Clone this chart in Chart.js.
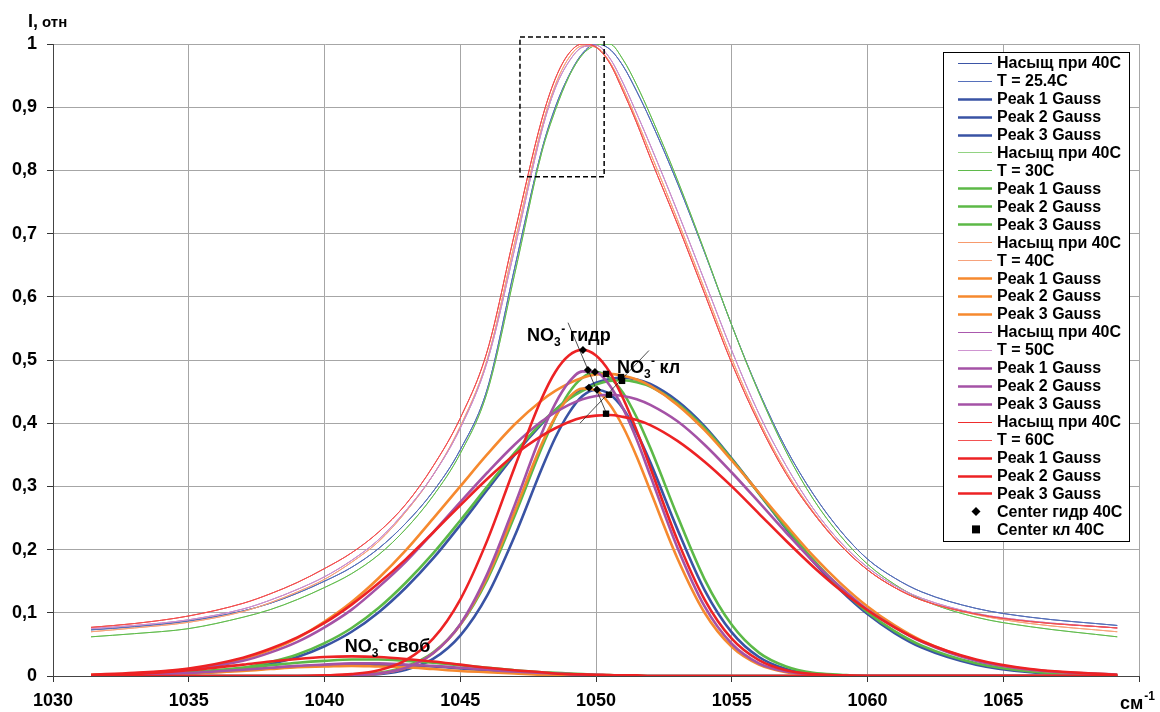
<!DOCTYPE html>
<html>
<head>
<meta charset="utf-8">
<script src="https://cdn.jsdelivr.net/npm/chart.js@4.4.1/dist/chart.umd.min.js"></script>
<style>
  html, body { margin: 0; padding: 0; background: #fff; }
  canvas { display: block; }
</style>
</head>
<body>
<canvas id="chart-spectra" width="1160" height="712"></canvas>
<script>
const FONT = 'Arial, "Liberation Sans", sans-serif';

// wavenumber grid, cm-1
const WAVENUMBER = [1031.4, 1033, 1035, 1037, 1038, 1039, 1040, 1041, 1042, 1043, 1044, 1045, 1046, 1047, 1048, 1048.5, 1049, 1049.5, 1050, 1050.5, 1051, 1051.5, 1052, 1053, 1054, 1055, 1056, 1057, 1058, 1059, 1060, 1061, 1062, 1064, 1066, 1069.2];

// measured bands (thin lines)
const BAND_25 = [.073, .078, .087, .103, .115, .131, .150, .172, .202, .242, .292, .358, .455, .645, .832, .900, .950, .985, 1.0, .992, .965, .925, .880, .780, .670, .555, .450, .360, .288, .230, .185, .155, .133, .107, .093, .080];
const BAND_30 = [.062, .067, .075, .093, .105, .121, .140, .162, .192, .233, .285, .352, .450, .635, .828, .895, .948, .983, .998, 1.0, .975, .935, .888, .785, .672, .555, .448, .355, .280, .222, .177, .145, .121, .093, .078, .062];
const BAND_40 = [.070, .076, .085, .102, .116, .133, .153, .180, .213, .260, .318, .395, .502, .685, .868, .935, .978, .997, .995, .972, .930, .880, .828, .722, .612, .502, .405, .324, .260, .208, .168, .140, .120, .097, .083, .070];
const BAND_50 = [.075, .080, .089, .106, .120, .137, .157, .183, .216, .262, .318, .392, .498, .675, .862, .930, .972, .995, .998, .978, .938, .890, .840, .735, .625, .515, .415, .333, .265, .212, .172, .143, .123, .099, .087, .076];
const BAND_60 = [.077, .083, .095, .115, .130, .148, .170, .195, .228, .272, .332, .408, .515, .700, .880, .945, .985, 1.0, .995, .970, .925, .875, .820, .715, .605, .495, .400, .320, .258, .207, .168, .140, .120, .098, .086, .076];

// Peak 1 Gauss (hydrated)
const PEAK1_25 = [0, 0, 0, 0, 0, 0, 0, .001, .003, .010, .027, .064, .128, .221, .328, .377, .416, .443, .453, .446, .423, .385, .338, .232, .136, .069, .030, .011, .003, .001, 0, 0, 0, 0, 0, 0];
const PEAK1_30 = [0, 0, 0, 0, 0, 0, 0, .002, .005, .015, .037, .081, .153, .253, .361, .409, .448, .472, .481, .472, .448, .409, .361, .253, .153, .081, .037, .015, .005, .002, 0, 0, 0, 0, 0, 0];
const PEAK1_40 = [0, 0, 0, 0, 0, 0, 0, .001, .004, .013, .036, .081, .157, .260, .367, .410, .441, .455, .452, .430, .394, .347, .293, .186, .100, .046, .018, .006, .002, 0, 0, 0, 0, 0, 0, 0];
const PEAK1_50 = [0, 0, 0, 0, 0, 0, 0, .001, .004, .013, .036, .082, .162, .270, .384, .431, .465, .482, .481, .460, .423, .374, .317, .203, .110, .051, .020, .007, .002, 0, 0, 0, 0, 0, 0, 0];
const PEAK1_60 = [0, 0, 0, 0, 0, 0, .001, .003, .009, .025, .059, .121, .215, .330, .439, .481, .507, .516, .507, .481, .439, .388, .330, .215, .121, .059, .025, .009, .003, .001, 0, 0, 0, 0, 0, 0];

// Peak 2 Gauss (contact pairs)
const PEAK2_25 = [0, .001, .004, .011, .019, .030, .047, .070, .101, .140, .186, .239, .295, .350, .399, .421, .439, .453, .464, .470, .472, .469, .462, .435, .395, .344, .289, .233, .181, .136, .098, .068, .045, .018, .006, .001];
const PEAK2_30 = [0, .001, .004, .013, .022, .034, .052, .076, .108, .148, .194, .246, .300, .353, .401, .421, .438, .451, .461, .467, .468, .465, .458, .431, .392, .343, .289, .235, .184, .139, .101, .071, .048, .020, .007, .001];
const PEAK2_40 = [.002, .004, .011, .027, .041, .060, .086, .117, .155, .199, .249, .300, .351, .398, .436, .451, .463, .472, .477, .478, .475, .469, .459, .429, .389, .341, .290, .239, .190, .147, .110, .080, .056, .025, .010, .002];
const PEAK2_50 = [.001, .003, .010, .024, .037, .054, .077, .105, .141, .181, .227, .275, .322, .366, .403, .417, .429, .438, .443, .445, .443, .438, .429, .403, .366, .322, .275, .227, .181, .141, .105, .077, .054, .024, .010, .002];
const PEAK2_60 = [.002, .005, .012, .029, .043, .061, .084, .113, .147, .185, .227, .270, .312, .350, .380, .392, .402, .409, .412, .413, .410, .405, .397, .372, .339, .300, .257, .214, .173, .136, .104, .077, .055, .026, .011, .002];

// Peak 3 Gauss (free ion)
const PEAK3_25 = [.001, .001, .004, .009, .012, .015, .017, .018, .018, .017, .015, .012, .009, .006, .004, .003, .003, .002, .001, .001, .001, 0, 0, 0, 0, 0, 0, 0, 0, 0, 0, 0, 0, 0, 0, 0];
const PEAK3_30 = [.001, .002, .006, .013, .017, .021, .024, .026, .026, .024, .021, .017, .013, .009, .006, .005, .004, .003, .002, .0015, .001, .001, 0, 0, 0, 0, 0, 0, 0, 0, 0, 0, 0, 0, 0, 0];
const PEAK3_40 = [0, .001, .004, .008, .011, .014, .015, .016, .015, .014, .011, .008, .006, .004, .002, .0015, .001, 0, 0, 0, 0, 0, 0, 0, 0, 0, 0, 0, 0, 0, 0, 0, 0, 0, 0, 0];
const PEAK3_50 = [.001, .002, .005, .010, .013, .016, .018, .020, .020, .018, .016, .013, .010, .007, .005, .004, .003, .002, .002, .001, .001, 0, 0, 0, 0, 0, 0, 0, 0, 0, 0, 0, 0, 0, 0, 0];
const PEAK3_60 = [.001, .003, .009, .018, .023, .027, .030, .031, .030, .027, .023, .018, .013, .009, .006, .004, .003, .0025, .002, .0015, .001, .001, 0, 0, 0, 0, 0, 0, 0, 0, 0, 0, 0, 0, 0, 0];

// band centres
const CENTER_HYDR_X = [1049.52, 1049.70, 1049.96, 1049.74, 1050.04];
const CENTER_HYDR_Y = [.516, .484, .481, .456, .453];
const CENTER_CL_X = [1050.37, 1050.92, 1050.96, 1050.48, 1050.37];
const CENTER_CL_Y = [.478, .473, .467, .445, .415];
const TREND_HYDR_X = [1048.97, 1050.44];
const TREND_HYDR_Y = [.559, .410];
const TREND_CL_X = [1049.41, 1051.95];
const TREND_CL_Y = [.400, .515];

const X_TICKS = [1030, 1035, 1040, 1045, 1050, 1055, 1060, 1065, 1070];
const Y_TICKS = [0, .1, .2, .3, .4, .5, .6, .7, .8, .9, 1];

const ANNOTATIONS = [
  { text: 'гидр', x: 1047.46, y: .530 },
  { text: 'кл', x: 1050.77, y: .479 },
  { text: 'своб', x: 1040.75, y: .038 }
];
const ZOOM_BOX = { x1: 1047.2, x2: 1050.3, y1: .79, y2: 1.011 };

const GROUPS = [
  { label: 'T = 25.4C', band: BAND_25, p1: PEAK1_25, p2: PEAK2_25, p3: PEAK3_25, sat: '#3b55a6', thin: '#5670bb', thick: '#3953a4' },
  { label: 'T = 30C', band: BAND_30, p1: PEAK1_30, p2: PEAK2_30, p3: PEAK3_30, sat: '#92d382', thin: '#5fba4b', thick: '#5cb947' },
  { label: 'T = 40C', band: BAND_40, p1: PEAK1_40, p2: PEAK2_40, p3: PEAK3_40, sat: '#f79a6c', thin: '#f6a27c', thick: '#f6892e' },
  { label: 'T = 50C', band: BAND_50, p1: PEAK1_50, p2: PEAK2_50, p3: PEAK3_50, sat: '#aa58ad', thin: '#cf95d1', thick: '#a452a6' },
  { label: 'T = 60C', band: BAND_60, p1: PEAK1_60, p2: PEAK2_60, p3: PEAK3_60, sat: '#ee2d2d', thin: '#f25252', thick: '#ed2224' }
];

function toPoints(xs, ys) {
  return xs.map((x, i) => ({ x, y: ys[i] }));
}

function lineSet(label, ys, color, width) {
  return {
    label,
    data: toPoints(WAVENUMBER, ys),
    borderColor: color,
    backgroundColor: color,
    borderWidth: width,
    pointRadius: 0,
    cubicInterpolationMode: 'monotone',
    fill: false
  };
}

const datasets = [];
GROUPS.forEach((g) => {
  datasets.push(lineSet('Насыщ при 40С', g.band, g.sat, 1));
  datasets.push(lineSet(g.label, g.band, g.thin, 1));
  datasets.push(lineSet('Peak 1 Gauss', g.p1, g.thick, 2.6));
  datasets.push(lineSet('Peak 2 Gauss', g.p2, g.thick, 2.6));
  datasets.push(lineSet('Peak 3 Gauss', g.p3, g.thick, 2.6));
});
datasets.push({
  label: 'trend', noLegend: true, data: toPoints(TREND_HYDR_X, TREND_HYDR_Y),
  borderColor: '#222', borderWidth: .8, pointRadius: 0
});
datasets.push({
  label: 'trend', noLegend: true, data: toPoints(TREND_CL_X, TREND_CL_Y),
  borderColor: '#222', borderWidth: .8, pointRadius: 0
});
datasets.push({
  label: 'Center гидр 40C', marker: 'rectRot', data: toPoints(CENTER_HYDR_X, CENTER_HYDR_Y),
  showLine: false, pointStyle: 'rectRot', pointRadius: 4, pointBorderWidth: 0,
  pointBackgroundColor: '#000', borderColor: '#000'
});
datasets.push({
  label: 'Center кл 40C', marker: 'rect', data: toPoints(CENTER_CL_X, CENTER_CL_Y),
  showLine: false, pointStyle: 'rect', pointRadius: 4.5, pointBorderWidth: 0,
  pointBackgroundColor: '#000', borderColor: '#000'
});
// later series are painted on top, like the original
datasets.forEach((d, i) => { d.order = datasets.length - i; });

function drawNO3(ctx, x, y, suffix) {
  ctx.font = `bold 18px ${FONT}`;
  ctx.fillText('NO', x, y);
  let cx = x + ctx.measureText('NO').width;
  ctx.font = `bold 12px ${FONT}`;
  ctx.fillText('3', cx, y + 5);
  cx += ctx.measureText('3').width;
  ctx.fillText('-', cx + .5, y - 8);
  cx += ctx.measureText('-').width + 5;
  ctx.font = `bold 18px ${FONT}`;
  ctx.fillText(suffix, cx, y);
}

const decor = {
  id: 'decor',
  afterDatasetsDraw(chart) {
    const { ctx, scales: { x, y } } = chart;
    ctx.save();

    // dashed zoom frame
    ctx.setLineDash([5, 3]);
    ctx.strokeStyle = '#000';
    ctx.lineWidth = 1.5;
    const bx1 = x.getPixelForValue(ZOOM_BOX.x1), bx2 = x.getPixelForValue(ZOOM_BOX.x2);
    const by1 = y.getPixelForValue(ZOOM_BOX.y2), by2 = y.getPixelForValue(ZOOM_BOX.y1);
    ctx.strokeRect(bx1, by1, bx2 - bx1, by2 - by1);
    ctx.setLineDash([]);

    // band labels
    ctx.fillStyle = '#000';
    ctx.textBaseline = 'alphabetic';
    ctx.textAlign = 'left';
    ANNOTATIONS.forEach(a => drawNO3(ctx, x.getPixelForValue(a.x), y.getPixelForValue(a.y), a.text));

    // axis titles
    ctx.font = `bold 18px ${FONT}`;
    ctx.fillText('I,', 28, 27);
    ctx.font = `bold 15px ${FONT}`;
    ctx.fillText('отн', 42, 27);
    ctx.font = `bold 18px ${FONT}`;
    ctx.fillText('см', 1120, 709);
    const wcm = ctx.measureText('см').width;
    ctx.font = `bold 12px ${FONT}`;
    ctx.fillText('-1', 1120 + wcm + 1, 700);

    // legend
    const items = chart.data.datasets.filter(d => !d.noLegend);
    const lx = 943, ly = 52, lw = 186, lh = 489, row = 17.95;
    ctx.fillStyle = '#fff';
    ctx.fillRect(lx, ly, lw, lh);
    ctx.strokeStyle = '#000';
    ctx.lineWidth = 1;
    ctx.strokeRect(lx + .5, ly + .5, lw, lh);
    ctx.font = `bold 16px ${FONT}`;
    ctx.textBaseline = 'middle';
    items.forEach((d, i) => {
      const ry = ly + 10.7 + i * row;
      if (d.marker) {
        ctx.fillStyle = '#000';
        if (d.marker === 'rect') {
          ctx.fillRect(972, ry - 4, 8, 8);
        } else {
          ctx.beginPath();
          ctx.moveTo(976, ry - 4.5);
          ctx.lineTo(980.5, ry);
          ctx.lineTo(976, ry + 4.5);
          ctx.lineTo(971.5, ry);
          ctx.closePath();
          ctx.fill();
        }
      } else {
        ctx.strokeStyle = d.borderColor;
        ctx.lineWidth = d.borderWidth;
        ctx.beginPath();
        ctx.moveTo(958, Math.round(ry) + .5);
        ctx.lineTo(992, Math.round(ry) + .5);
        ctx.stroke();
      }
      ctx.fillStyle = '#000';
      ctx.fillText(d.label, 997, ry + 1);
    });
    ctx.restore();
  }
};

new Chart(document.getElementById('chart-spectra'), {
  type: 'line',
  data: { datasets },
  options: {
    responsive: false,
    animation: false,
    devicePixelRatio: 1,
    layout: { padding: { top: 44, right: 21, left: 0, bottom: 0 } },
    plugins: {
      legend: { display: false },
      tooltip: { enabled: false }
    },
    scales: {
      x: {
        type: 'linear',
        min: 1030,
        max: 1070,
        afterFit: (s) => { s.height = 36; },
        afterBuildTicks: (s) => { s.ticks = X_TICKS.map(v => ({ value: v })); },
        ticks: {
          color: '#000',
          font: { family: FONT, size: 18, weight: 'bold' },
          padding: 8,
          maxRotation: 0,
          callback: (v) => (v === 1070 ? '' : String(v))
        },
        grid: { color: '#a6a6a6', tickColor: '#333', tickLength: 6, lineWidth: 1 },
        border: { color: '#444', width: 1 }
      },
      y: {
        min: 0,
        max: 1,
        afterFit: (s) => { s.width = 53; },
        afterBuildTicks: (s) => { s.ticks = Y_TICKS.map(v => ({ value: v })); },
        ticks: {
          color: '#000',
          font: { family: FONT, size: 18, weight: 'bold' },
          padding: 10,
          callback: (v) => (v === 0 || v === 1 ? String(v) : v.toFixed(1).replace('.', ','))
        },
        grid: { color: '#a6a6a6', tickColor: '#333', tickLength: 6, lineWidth: 1 },
        border: { color: '#444', width: 1 }
      }
    }
  },
  plugins: [decor]
});
</script>
</body>
</html>
